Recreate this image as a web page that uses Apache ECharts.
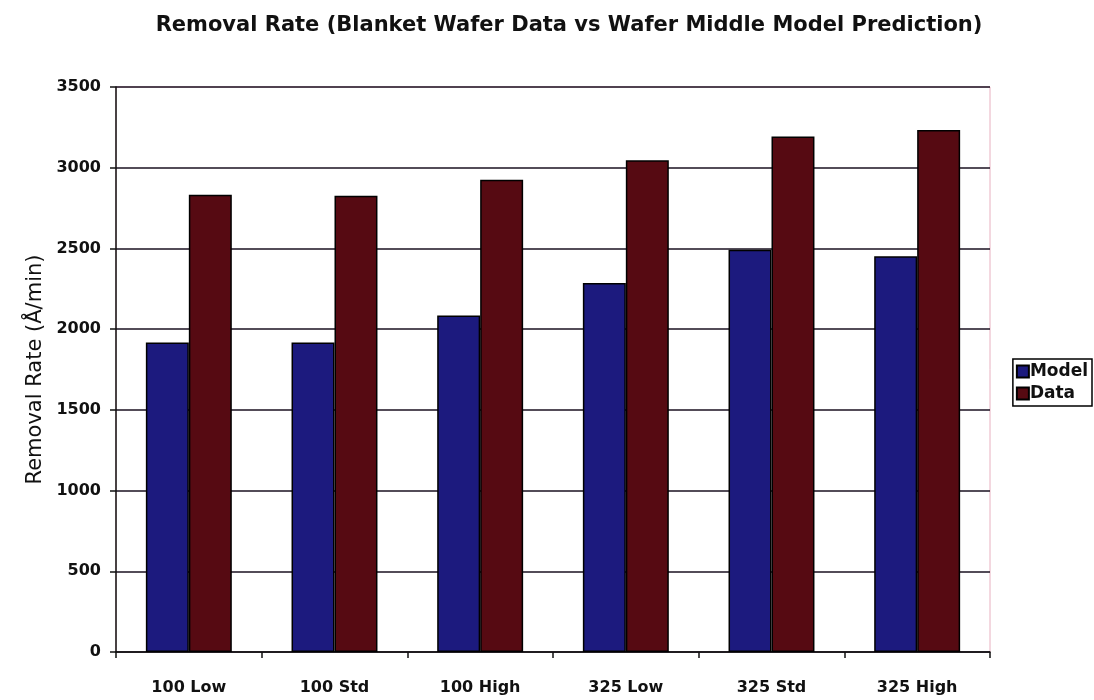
<!DOCTYPE html>
<html><head><meta charset="utf-8">
<script src="https://cdn.jsdelivr.net/npm/echarts@6/dist/echarts.min.js"></script>
<style>html,body{margin:0;padding:0;background:#fff}#c{width:1094px;height:700px}</style>
</head><body><div id="c"></div>
<script>
const categories = ['100 Low', '100 Std', '100 High', '325 Low', '325 Std', '325 High'];
const modelValues = [1917, 1917, 2085, 2286, 2492, 2451];
const dataValues = [2833, 2827, 2926, 3046, 3193, 3234];
const seriesNames = ['Model', 'Data'];

const chart = echarts.init(document.getElementById('c'));
const bold = 'DejaVu Sans, sans-serif';
chart.setOption({
  animation: false,
  backgroundColor: '#fff',
  title: {
    text: 'Removal Rate (Blanket Wafer Data vs Wafer Middle Model Prediction)',
    left: 564, top: 10, textAlign: 'center',
    textStyle: { fontFamily: bold, fontWeight: 'bold', fontSize: 21, color: '#111' }
  },
  legend: {
    orient: 'vertical', right: 2, top: 359,
    data: seriesNames,
    itemWidth: 12, itemHeight: 12, itemGap: 5, padding: [4, 4, 4, 3],
    borderColor: '#000', borderWidth: 1.5,
    icon: 'rect',
    textStyle: { fontFamily: bold, fontWeight: 'bold', fontSize: 17, color: '#111', padding: [0, 0, 0, -4] }
  },
  grid: { left: 116, right: 104, top: 87, bottom: 48, show: true, borderColor: '#e8b0c0', borderWidth: 1 },
  xAxis: {
    type: 'category', data: categories,
    axisLine: { lineStyle: { color: '#111', width: 1.5 } },
    axisTick: { show: true, length: 6, lineStyle: { color: '#111', width: 1.5 } },
    axisLabel: { fontFamily: bold, fontWeight: 'bold', fontSize: 16, color: '#111', margin: 28 }
  },
  yAxis: {
    type: 'value', min: 0, max: 3500, interval: 500,
    name: 'Removal Rate (Å/min)', nameLocation: 'middle', nameGap: 63, nameRotate: 90,
    nameTextStyle: { fontFamily: 'DejaVu Sans, sans-serif', fontSize: 21, color: '#111' },
    axisLine: { show: true, lineStyle: { color: '#111', width: 1.5 } },
    axisTick: { show: true, length: 6, lineStyle: { color: '#111', width: 1.5 } },
    axisLabel: { fontFamily: bold, fontWeight: 'bold', fontSize: 16, color: '#111', margin: 15,
      formatter: v => String(v) },
    splitLine: { show: true, lineStyle: { color: '#1a1020', width: 1.5 } }
  },
  series: [
    { name: seriesNames[0], type: 'bar', data: modelValues, barGap: '0%', barCategoryGap: '41%',
      itemStyle: { color: '#1c1a7e', borderColor: '#000', borderWidth: 1.5 } },
    { name: seriesNames[1], type: 'bar', data: dataValues,
      itemStyle: { color: '#560a12', borderColor: '#000', borderWidth: 1.5 } }
  ]
});
</script></body></html>
